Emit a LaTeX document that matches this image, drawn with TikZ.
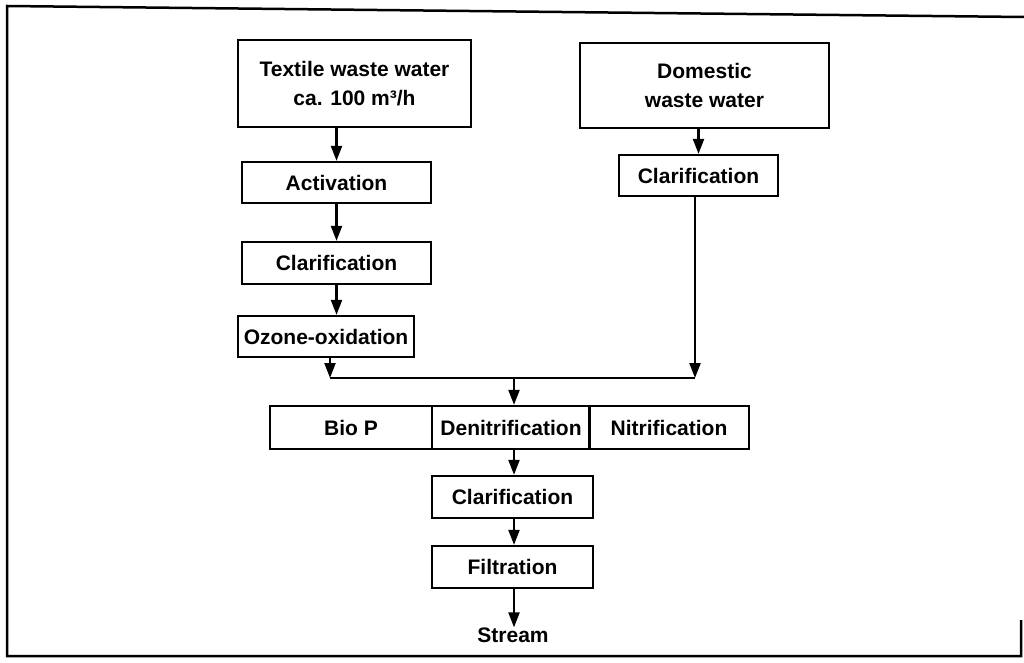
\documentclass[tikz,border=0pt]{standalone}
\usepackage{fontspec}
\setmainfont{Liberation Sans}
\usetikzlibrary{arrows.meta}
\begin{document}
\begin{tikzpicture}[x=1pt,y=-1pt,
  box/.style={draw, line width=2.3pt, inner sep=0pt, align=center,
    font=\fontsize{21}{29}\selectfont\bfseries},
  flow/.style={line width=2.2pt, -{Triangle[length=15pt,width=11pt]}},
  link/.style={line width=2.2pt},
  lbl/.style={inner sep=0pt, font=\fontsize{21}{29}\selectfont\bfseries}]
\useasboundingbox (0,0) rectangle (1024,663);
% outer frame
\draw[line width=2.5pt] (1024,17) -- (7,6) -- (7,656) -- (1021,656) -- (1021,620);
% nodes
\node[box, minimum width=233pt, minimum height=87pt] (tex) at (354.5,83.5) {Textile waste water\\ca. 100 m³/h};
\node[box, minimum width=249pt, minimum height=85pt] (dom) at (704.5,85.5) {Domestic\\waste water};
\node[box, minimum width=189pt, minimum height=41pt] (act) at (336.5,182.5) {Activation};
\node[box, minimum width=189pt, minimum height=42pt] (clarA) at (336.5,263) {Clarification};
\node[box, minimum width=176pt, minimum height=41pt] (ozo) at (326,336.5) {Ozone-oxidation};
\node[box, minimum width=159pt, minimum height=41pt] (clarB) at (698.5,175.5) {Clarification};
\node[box, minimum width=162pt, minimum height=43pt] (biop) at (351,427.5) {Bio P};
\node[box, minimum width=158pt, minimum height=43pt] (denit) at (511,427.5) {Denitrification};
\node[box, minimum width=160pt, minimum height=43pt] (nitr) at (669,427.5) {Nitrification};
\node[box, minimum width=161pt, minimum height=42pt] (clarC) at (512.5,497) {Clarification};
\node[box, minimum width=161pt, minimum height=42pt] (filt) at (512.5,567) {Filtration};
\node[lbl] (stream) at (513,635) {Stream};
% junction coordinates
\coordinate (jl) at (330,378);
\coordinate (jr) at (695,378);
\coordinate (jm) at (514,378);
% connectors
\draw[flow] (act.north |- tex.south) -- (act.north);
\draw[flow] (act.south) -- (clarA.north);
\draw[flow] (clarA.south) -- (clarA.south |- ozo.north);
\draw[flow] (clarB.north |- dom.south) -- (clarB.north);
\draw[flow] (jl |- ozo.south) -- (jl);
\draw[flow] (jr |- clarB.south) -- (jr);
\draw[link] (jl) -- (jr);
\draw[flow] (jm) -- (jm |- denit.north);
\draw[flow] (jm |- denit.south) -- (jm |- clarC.north);
\draw[flow] (jm |- clarC.south) -- (jm |- filt.north);
\draw[flow] (jm |- filt.south) -- (jm |- stream.north);
\end{tikzpicture}
\end{document}
